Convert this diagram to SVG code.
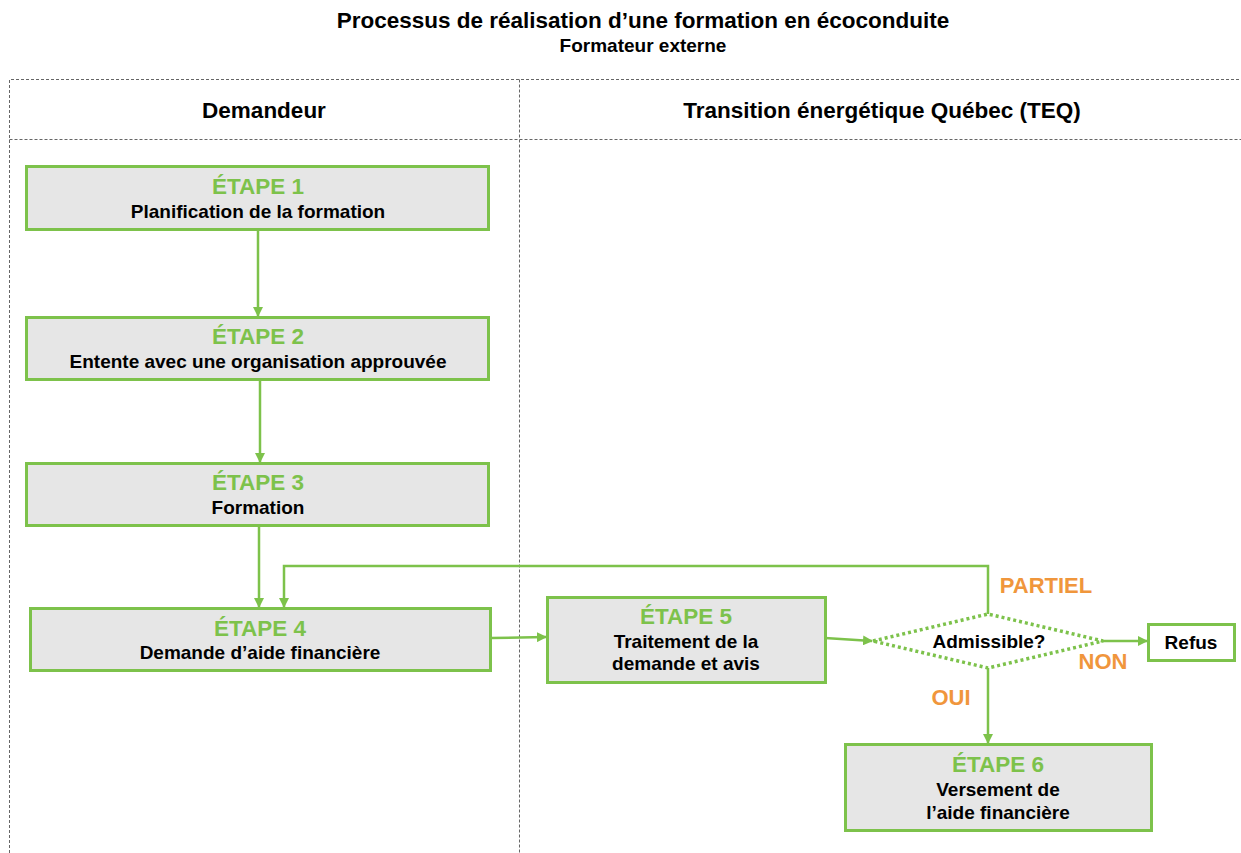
<svg xmlns="http://www.w3.org/2000/svg" width="1241" height="853" viewBox="0 0 1241 853">
<defs>
<style>
text{font-family:"Liberation Sans",Arial,sans-serif;font-weight:bold;text-anchor:middle}
.title{font-size:22.5px;fill:#000}
.sub{font-size:19px;fill:#000}
.lane{font-size:22.5px;fill:#000}
.box{fill:#E6E6E6;stroke:#7DC24B;stroke-width:3}
.wbox{fill:#fff;stroke:#7DC24B;stroke-width:3}
.step{font-size:22.5px;fill:#7DC24B}
.lbl{font-size:19px;fill:#000}
.ans{font-size:22px;fill:#F0963C}
.grid{stroke:#666;stroke-width:1;stroke-dasharray:3,2;fill:none}
.conn{stroke:#7DC24B;stroke-width:2.5;fill:none}
</style>
<marker id="arr" viewBox="0 0 10 10" refX="9" refY="5" markerWidth="4" markerHeight="4" orient="auto" markerUnits="strokeWidth">
<path d="M0,0 L10,5 L0,10 z" fill="#7DC24B"/>
</marker>
</defs>
<rect width="1241" height="853" fill="#fff"/>
<g id="title">
<text class="title" x="643" y="28">Processus de réalisation d’une formation en écoconduite</text>
<text class="sub" x="643" y="52">Formateur externe</text>
</g>
<g id="lanes">
<path class="grid" d="M9.5,853 V79.5 H1241 M9.5,139.5 H1241 M519.5,79.5 V853"/>
<text class="lane" x="264" y="118">Demandeur</text>
<text class="lane" x="882" y="118">Transition énergétique Québec (TEQ)</text>
</g>
<g id="connectors">
<path class="conn" d="M258,230 V316" marker-end="url(#arr)"/>
<path class="conn" d="M260,379 V462" marker-end="url(#arr)"/>
<path class="conn" d="M259,525 V607" marker-end="url(#arr)"/>
<path class="conn" d="M988,614 V566 H284 V607" marker-end="url(#arr)"/>
<path class="conn" d="M491,638 L546,637" marker-end="url(#arr)"/>
<path class="conn" d="M825,638 L872,641" marker-end="url(#arr)"/>
<path class="conn" d="M1103,641 L1147,641" marker-end="url(#arr)"/>
<path class="conn" d="M988,668 V743" marker-end="url(#arr)"/>
</g>
<g id="etape1">
<rect class="box" x="26.5" y="166.5" width="462" height="63"/>
<text class="step" x="258" y="194">ÉTAPE 1</text>
<text class="lbl" x="258" y="218">Planification de la formation</text>
</g>
<g id="etape2">
<rect class="box" x="26.5" y="317.5" width="462" height="62"/>
<text class="step" x="258" y="344">ÉTAPE 2</text>
<text class="lbl" x="258" y="368">Entente avec une organisation approuvée</text>
</g>
<g id="etape3">
<rect class="box" x="26.5" y="463.5" width="462" height="62"/>
<text class="step" x="258" y="490">ÉTAPE 3</text>
<text class="lbl" x="258" y="514">Formation</text>
</g>
<g id="etape4">
<rect class="box" x="30.5" y="608.5" width="460" height="62"/>
<text class="step" x="260" y="636">ÉTAPE 4</text>
<text class="lbl" x="260" y="659">Demande d’aide financière</text>
</g>
<g id="etape5">
<rect class="box" x="547.5" y="597.5" width="278" height="85"/>
<text class="step" x="686" y="624">ÉTAPE 5</text>
<text class="lbl" x="686" y="648">Traitement de la</text>
<text class="lbl" x="686" y="670">demande et avis</text>
</g>
<g id="admissible">
<polygon points="873,641 988,614 1103,641 988,668" fill="#fff" stroke="#7DC24B" stroke-width="3.5" stroke-dasharray="3,3"/>
<text class="lbl" x="989" y="648">Admissible?</text>
</g>
<g id="refus">
<rect class="wbox" x="1148.5" y="624.5" width="86" height="36"/>
<text class="lbl" x="1191" y="649">Refus</text>
</g>
<g id="etape6">
<rect class="box" x="845.5" y="744.5" width="306" height="86"/>
<text class="step" x="998" y="772">ÉTAPE 6</text>
<text class="lbl" x="998" y="796">Versement de</text>
<text class="lbl" x="998" y="819">l’aide financière</text>
</g>
<g id="labels">
<text class="ans" x="1046" y="593">PARTIEL</text>
<text class="ans" x="1103" y="669">NON</text>
<text class="ans" x="951" y="705">OUI</text>
</g>
</svg>
